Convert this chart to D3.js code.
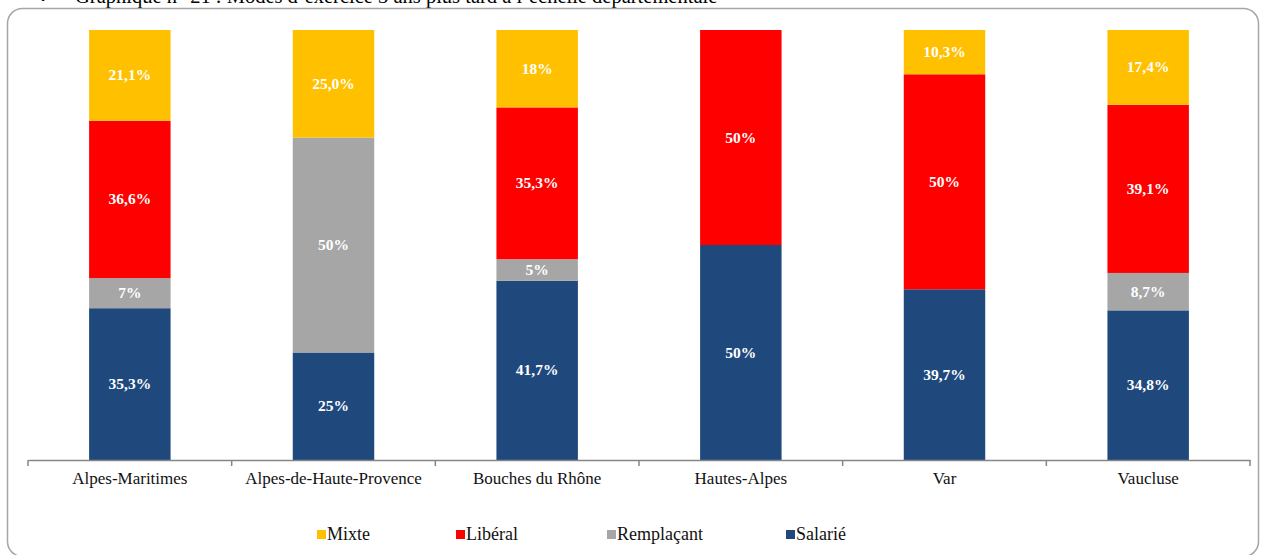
<!DOCTYPE html>
<html lang="fr">
<head>
<meta charset="UTF-8">
<title>Modes d'exercice</title>
<script src="https://d3js.org/d3.v7.min.js"></script>
<style>
body { margin: 0; background: #fff; }
svg text { font-family: "Liberation Serif", "DejaVu Serif", serif; }
</style>
</head>
<body>
<script>
// données
var departements = ["Alpes-Maritimes", "Alpes-de-Haute-Provence", "Bouches du Rhône", "Hautes-Alpes", "Var", "Vaucluse"];
var series = ["Salarié", "Remplaçant", "Libéral", "Mixte"];
var salarie    = [35.3, 25, 41.7, 50, 39.7, 34.8];
var remplacant = [7, 50, 5, 0, 0, 8.7];
var liberal    = [36.6, 0, 35.3, 50, 50, 39.1];
var mixte      = [21.1, 25, 18, 0, 10.3, 17.4];
var lblSalarie    = ["35,3%", "25%", "41,7%", "50%", "39,7%", "34,8%"];
var lblRemplacant = ["7%", "50%", "5%", "", "", "8,7%"];
var lblLiberal    = ["36,6%", "", "35,3%", "50%", "50%", "39,1%"];
var lblMixte      = ["21,1%", "25,0%", "18%", "", "10,3%", "17,4%"];
var legendOrder = ["Mixte", "Libéral", "Remplaçant", "Salarié"];

var couleurs = {"Mixte": "#FFC000", "Libéral": "#FF0000", "Remplaçant": "#A6A6A6", "Salarié": "#1F497D"};
var valeurs = {"Salarié": salarie, "Remplaçant": remplacant, "Libéral": liberal, "Mixte": mixte};
var etiquettes = {"Salarié": lblSalarie, "Remplaçant": lblRemplacant, "Libéral": lblLiberal, "Mixte": lblMixte};

var W = 1261, H = 555;
var svg = d3.select("body").append("svg").attr("width", W).attr("height", H);

// titre coupé en haut (comme sur l'original)
svg.append("text").attr("x", 38).attr("y", 3).attr("font-size", 20).text("✓");
svg.append("text").attr("x", 75).attr("y", 3).attr("font-size", 20.5)
  .text("Graphique n° 21 : Modes d’exercice 3 ans plus tard à l’échelle départementale");

// cadre
svg.append("rect").attr("x", 7.5).attr("y", 8.5).attr("width", 1251).attr("height", 548)
  .attr("rx", 15).attr("fill", "none").attr("stroke", "#a6a6a6").attr("stroke-width", 1.5);

var x = d3.scaleBand().domain(departements).range([28, 1250]).paddingInner(0.6).paddingOuter(0.3);
var y = d3.scaleLinear().domain([0, 100]).range([460, 30]);

var rows = departements.map(function(d, i) {
  var r = {dep: d};
  series.forEach(function(s) { r[s] = valeurs[s][i]; });
  return r;
});
var stack = d3.stack().keys(series)(rows);

var g = svg.append("g");
stack.forEach(function(layer) {
  var s = layer.key;
  g.selectAll(null).data(layer).enter().append("rect")
    .attr("x", function(d) { return x(d.data.dep); })
    .attr("width", x.bandwidth())
    .attr("y", function(d) { return y(d[1]); })
    .attr("height", function(d) { return y(d[0]) - y(d[1]); })
    .attr("fill", couleurs[s]);
  g.selectAll(null).data(layer).enter().append("text")
    .attr("x", function(d) { return x(d.data.dep) + x.bandwidth() / 2; })
    .attr("y", function(d) { return (y(d[0]) + y(d[1])) / 2 + 5; })
    .attr("text-anchor", "middle")
    .attr("font-size", 15.5).attr("font-weight", "bold").attr("fill", "#fff")
    .text(function(d, i) { return etiquettes[s][i]; });
});

// axe
var step = (1250 - 28) / departements.length;
var axe = d3.axisBottom(x).tickSize(0).tickPadding(14);
var ga = svg.append("g").attr("transform", "translate(0,460)").call(axe);
ga.attr("font-family", null);
ga.select(".domain").attr("stroke", "#868686").attr("stroke-width", 1.5);
ga.selectAll("text").attr("font-size", 17).attr("fill", "#111").attr("dy", "0.6em");
d3.range(departements.length + 1).forEach(function(i) {
  ga.append("line").attr("x1", 28 + i * step).attr("x2", 28 + i * step)
    .attr("y1", 0).attr("y2", 6).attr("stroke", "#868686").attr("stroke-width", 1.5);
});

// légende
var legX = [317, 456, 607, 786];
var leg = svg.append("g").selectAll("g").data(legendOrder).enter().append("g")
  .attr("transform", function(d, i) { return "translate(" + legX[i] + ",530)"; });
leg.append("rect").attr("width", 9).attr("height", 9).attr("fill", function(d) { return couleurs[d]; });
leg.append("text").attr("x", 10).attr("y", 10).attr("font-size", 18).attr("fill", "#111").text(function(d) { return d; });
</script>
</body>
</html>
